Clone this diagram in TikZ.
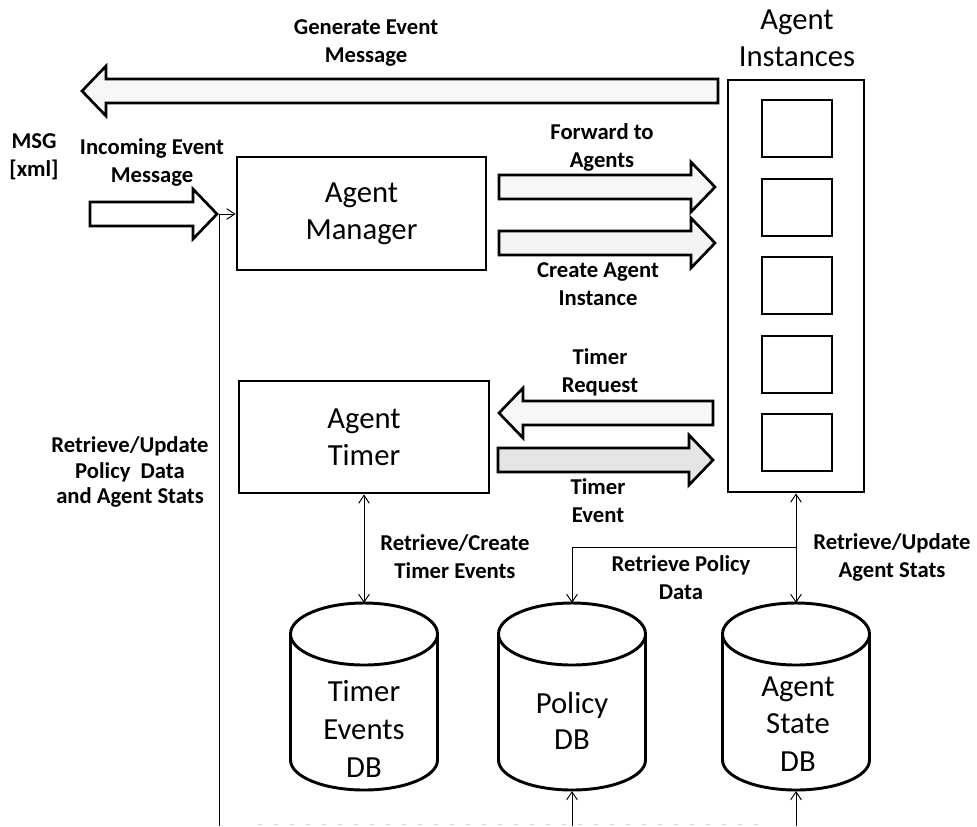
\documentclass[tikz,border=0pt]{standalone}
\usepackage{fontspec}
\setmainfont{Carlito}
\usetikzlibrary{arrows.meta,fit}

\tikzset{
  barb/.tip={Straight Barb[length=6pt,width=8pt]},
  box/.style={draw, line width=2.2pt, inner sep=0pt, fill=white},
  boxtext/.style={font=\fontsize{23}{27.5}\selectfont, align=center, inner sep=0pt},
  dbtext/.style={font=\fontsize{23}{28.5}\selectfont, align=center, inner sep=0pt},
  lbl/.style={font=\fontsize{17}{21}\selectfont\bfseries, align=center, inner sep=0pt},
  blockarrow/.style={draw, line width=2pt, line join=miter, fill=gray!6},
  dbline/.style={line width=2.2pt},
  conn/.style={line width=0.7pt},
}

% right-pointing block arrow: tail x, tip x, centre y
\newcommand{\blockR}[4][]{%
  \draw[blockarrow,#1] (#2,{#4-12}) -- ({#3-24},{#4-12}) -- ({#3-24},{#4-25})
    -- (#3,#4) -- ({#3-24},{#4+25}) -- ({#3-24},{#4+12}) -- (#2,{#4+12}) -- cycle;}
% left-pointing block arrow: tail x, tip x, centre y
\newcommand{\blockL}[4][]{%
  \draw[blockarrow,#1] (#2,{#4-12}) -- ({#3+24},{#4-12}) -- ({#3+24},{#4-25})
    -- (#3,#4) -- ({#3+24},{#4+25}) -- ({#3+24},{#4+12}) -- (#2,{#4+12}) -- cycle;}

\begin{document}
\begin{tikzpicture}[x=0.75pt,y=-0.75pt]
  \fill[white] (0,0) rectangle (977,826);
  \useasboundingbox (0,0) rectangle (977,826);

  % main boxes
  \node[box, fit={(237,157) (486,270)}] (mgr) {};
  \node[boxtext] at (mgr.center) {Agent\\Manager};
  \node[box, fit={(239,381) (489,493)}] (tmr) {};
  \node[boxtext] at (tmr.center) {Agent\\Timer};

  % agent instances column
  \node[boxtext] (insttitle) at (797,38) {Agent\\Instances};
  \node[box, fit={(728,80) (864,492)}] (inst) {};
  \foreach \i/\t in {1/100,2/179,3/257,4/336,5/414}
    \node[box, fit={(762,\t) ({832},{\t+57})}] (slot\i) {};

  % block arrows
  \blockL{718}{82}{91}
  \blockR[fill=white]{90}{217}{214}
  \blockR{499}{715}{187}
  \blockR[fill=gray!9]{499}{715}{243}
  \blockL{713}{499}{413}
  \blockR[fill=gray!20]{498}{713}{460}

  % databases
  \foreach \cx in {364,572,796} {
    \fill[white] ({\cx-73.5},634) -- ({\cx-73.5},760)
      arc[start angle=180,end angle=0,x radius=73.5,y radius=30] -- ({\cx+73.5},634) -- cycle;
    \draw[dbline] ({\cx-73.5},634) -- ({\cx-73.5},760)
      arc[start angle=180,end angle=0,x radius=73.5,y radius=30] -- ({\cx+73.5},634);
    \draw[dbline, fill=white] (\cx,634) ellipse [x radius=73.5, y radius=31];
  }
  \node[dbtext] (tdb) at (364,729) {Timer\\Events\\DB};
  \node[dbtext, font=\fontsize{23}{27}\selectfont] (pdb) at (572,721) {Policy\\DB};
  \node[dbtext, font=\fontsize{23}{28}\selectfont] (sdb) at (798,724) {Agent\\State\\DB};

  \coordinate (tdbtop) at (364,603);
  \coordinate (pdbtop) at (572,603);
  \coordinate (sdbtop) at (796,603);
  \coordinate (pdbbot) at (572,791);
  \coordinate (sdbbot) at (796,791);
  \coordinate (inctip) at (219,214);
  \coordinate (leftend) at (219,826);
  \coordinate (pdbin) at (572,826);
  \coordinate (sdbin) at (796,826);
  \coordinate (split) at (796,547);

  % thin connectors
  \draw[conn,-barb] (inctip) -- (mgr.west |- inctip);
  \draw[conn] (inctip) -- (leftend);
  \draw[conn,barb-barb] (tmr.south) -- (tdbtop);
  \draw[conn,barb-barb] (inst.south) -- (sdbtop);
  \draw[conn,-barb] (split) -| (pdbtop);
  \draw[conn,-barb] (pdbin) -- (pdbbot);
  \draw[conn,-barb] (sdbin) -- (sdbbot);
  \draw[gray!30, line width=0.5pt, dash pattern=on 3pt off 9pt] (258,824) -- (760,824);

  % labels
  \node[lbl] (lgen) at (366,43) {Generate Event\\Message};
  \node[lbl] (lmsg) at (34,157) {MSG\\{[xml]}};
  \node[lbl] (linc) at (152,162) {Incoming Event\\Message};
  \node[lbl] (lfwd) at (602,147) {Forward to\\Agents};
  \node[lbl] (lcre) at (598,284) {Create Agent\\Instance};
  \node[lbl] (lreq) at (600,372) {Timer\\Request};
  \node[lbl] (lev) at (598,501) {Timer\\Event};
  \node[lbl, font=\fontsize{17}{19}\selectfont\bfseries] (lrup) at (130,472)
    {Retrieve/Update\\Policy\hspace{0.45em}Data\\and Agent Stats};
  \node[lbl] (lrct) at (455,557) {Retrieve/Create\\Timer Events};
  \node[lbl] (lrpd) at (681,578) {Retrieve Policy\\Data};
  \node[lbl] (lras) at (892,557) {Retrieve/Update\\Agent Stats};
\end{tikzpicture}
\end{document}
